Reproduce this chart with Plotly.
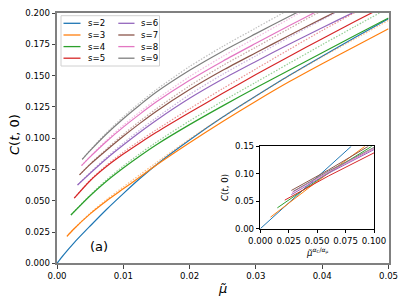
import plotly.graph_objects as go

W, H = 407, 305

# ---------------- data ----------------
series_labels = ["s=2", "s=3", "s=4", "s=5", "s=6", "s=7", "s=8", "s=9"]
series_colors = ["#1f77b4", "#ff7f0e", "#2ca02c", "#d62728",
                 "#9467bd", "#8c564b", "#e377c2", "#7f7f7f"]

mu_s2 = [0, 0.001, 0.0025, 0.005, 0.0075, 0.01, 0.0125, 0.015, 0.02, 0.025, 0.03, 0.035, 0.04, 0.045, 0.05]
C_s2 = [0, 0.0068, 0.016, 0.0298, 0.0432, 0.0557, 0.0677, 0.0788, 0.0985, 0.1168, 0.1336, 0.150, 0.1655, 0.1806, 0.1954]

mu_s3 = [0.0015, 0.0025, 0.005, 0.0075, 0.01, 0.0125, 0.015, 0.02, 0.025, 0.03, 0.035, 0.04, 0.045, 0.05]
C_s3 = [0.0215, 0.0272, 0.0395, 0.050, 0.0595, 0.069, 0.0785, 0.0963, 0.1133, 0.1295, 0.1450, 0.1595, 0.1735, 0.1874]
C_s3_dot = [0.0215, 0.0272, 0.04, 0.051, 0.061, 0.0708, 0.0805, 0.0993, 0.1168, 0.1335, 0.1498, 0.165, 0.1795, 0.194]

mu_s4 = [0.0021, 0.005, 0.0075, 0.01, 0.0125, 0.015, 0.02, 0.025, 0.03, 0.035, 0.04, 0.045, 0.05]
C_s4 = [0.0386, 0.054, 0.0658, 0.0762, 0.0858, 0.0948, 0.1108, 0.1258, 0.1402, 0.1543, 0.1682, 0.1822, 0.196]
C_s4_dot = [0.0386, 0.0545, 0.0668, 0.0777, 0.0876, 0.0968, 0.1138, 0.1296, 0.1447, 0.1598, 0.1747, 0.1894, 0.204]

mu_s5 = [0.0026, 0.005, 0.0075, 0.01, 0.0125, 0.015, 0.02, 0.025, 0.03, 0.035, 0.04, 0.045, 0.05]
C_s5 = [0.052, 0.066, 0.0775, 0.0873, 0.0962, 0.1047, 0.1205, 0.1358, 0.1508, 0.1653, 0.1795, 0.1934, 0.207]
C_s5_dot = [0.052, 0.0665, 0.0785, 0.0888, 0.098, 0.1067, 0.1235, 0.1396, 0.1553, 0.1708, 0.186, 0.2006, 0.215]

mu_s6 = [0.0031, 0.005, 0.0075, 0.01, 0.0125, 0.015, 0.02, 0.025, 0.03, 0.035, 0.04, 0.045, 0.05]
C_s6 = [0.0626, 0.072, 0.0838, 0.0945, 0.1047, 0.1143, 0.1318, 0.1472, 0.1613, 0.175, 0.1882, 0.2012, 0.214]
C_s6_dot = [0.0626, 0.0725, 0.0848, 0.096, 0.1065, 0.1163, 0.1348, 0.151, 0.1658, 0.1805, 0.1947, 0.2084, 0.222]

mu_s7 = [0.0034, 0.005, 0.0075, 0.01, 0.0125, 0.015, 0.02, 0.025, 0.03, 0.035, 0.04, 0.045, 0.05]
C_s7 = [0.0706, 0.079, 0.0905, 0.1015, 0.1118, 0.1215, 0.1388, 0.1542, 0.1682, 0.182, 0.1955, 0.2088, 0.222]
C_s7_dot = [0.0706, 0.0795, 0.0915, 0.103, 0.1136, 0.1235, 0.1418, 0.158, 0.1727, 0.1875, 0.202, 0.216, 0.230]

mu_s8 = [0.0037, 0.005, 0.0075, 0.01, 0.0125, 0.015, 0.02, 0.025, 0.03, 0.035, 0.04, 0.045, 0.05]
C_s8 = [0.078, 0.085, 0.0975, 0.1088, 0.1192, 0.129, 0.1462, 0.1615, 0.1758, 0.1898, 0.2035, 0.2168, 0.230]
C_s8_dot = [0.078, 0.0855, 0.0985, 0.1103, 0.121, 0.131, 0.1492, 0.1653, 0.1803, 0.1953, 0.21, 0.224, 0.238]

mu_s9 = [0.0038, 0.005, 0.0075, 0.01, 0.0125, 0.015, 0.02, 0.025, 0.03, 0.035, 0.04, 0.045, 0.05]
C_s9 = [0.083, 0.090, 0.1035, 0.1155, 0.1265, 0.1368, 0.1542, 0.1695, 0.1835, 0.1972, 0.2105, 0.2235, 0.236]
C_s9_dot = [0.083, 0.0905, 0.1045, 0.117, 0.1283, 0.1388, 0.1572, 0.1733, 0.188, 0.2027, 0.217, 0.2307, 0.244]

# inset: rescaled abscissa
ins_x_s2 = [0, 0.04, 0.08];        ins_y_s2 = [0, 0.075, 0.15]
ins_x_s3 = [0.009, 0.05, 0.092];   ins_y_s3 = [0.021, 0.086, 0.15]
ins_x_s4 = [0.015, 0.055, 0.098];  ins_y_s4 = [0.038, 0.095, 0.15]
ins_x_s5 = [0.0215, 0.06, 0.1];    ins_y_s5 = [0.052, 0.096, 0.138]
ins_x_s6 = [0.0273, 0.06, 0.1];    ins_y_s6 = [0.062, 0.101, 0.144]
ins_x_s7 = [0.0273, 0.06, 0.095];  ins_y_s7 = [0.0696, 0.107, 0.15]
ins_x_s8 = [0.028, 0.06, 0.1];     ins_y_s8 = [0.066, 0.103, 0.146]
ins_x_s9 = [0.029, 0.06, 0.1];     ins_y_s9 = [0.068, 0.105, 0.148]

main_x_ticks = [0, 0.01, 0.02, 0.03, 0.04, 0.05]
main_y_ticks = [0, 0.025, 0.05, 0.075, 0.1, 0.125, 0.15, 0.175, 0.2]
ins_x_ticks = [0, 0.025, 0.05, 0.075, 0.1]
ins_y_ticks = [0, 0.05, 0.1, 0.15]

# ---------------- figure ----------------
solid = [(mu_s2, C_s2), (mu_s3, C_s3), (mu_s4, C_s4), (mu_s5, C_s5),
         (mu_s6, C_s6), (mu_s7, C_s7), (mu_s8, C_s8), (mu_s9, C_s9)]
dotted = [None, (mu_s3, C_s3_dot), (mu_s4, C_s4_dot), (mu_s5, C_s5_dot),
          (mu_s6, C_s6_dot), (mu_s7, C_s7_dot), (mu_s8, C_s8_dot), (mu_s9, C_s9_dot)]
inset = [(ins_x_s2, ins_y_s2), (ins_x_s3, ins_y_s3), (ins_x_s4, ins_y_s4), (ins_x_s5, ins_y_s5),
         (ins_x_s6, ins_y_s6), (ins_x_s7, ins_y_s7), (ins_x_s8, ins_y_s8), (ins_x_s9, ins_y_s9)]

fig = go.Figure()
LW = 1.2
for i, lab in enumerate(series_labels):
    xs, ys = solid[i]
    fig.add_trace(go.Scatter(x=xs, y=ys, mode="lines", name=lab,
                             line=dict(color=series_colors[i], width=LW, shape="spline", smoothing=0.8),
                             xaxis="x", yaxis="y", showlegend=False))
for i, lab in enumerate(series_labels):
    if dotted[i] is None:
        continue
    xs, ys = dotted[i]
    fig.add_trace(go.Scatter(x=xs, y=ys, mode="lines", name=lab + " (dotted)",
                             line=dict(color=series_colors[i], width=LW, dash="1.5px,1.5px",
                                       shape="spline", smoothing=0.8),
                             opacity=0.5, xaxis="x", yaxis="y", showlegend=False))
for i, lab in enumerate(series_labels):
    xs, ys = inset[i]
    fig.add_trace(go.Scatter(x=xs, y=ys, mode="lines", name=lab + " inset",
                             line=dict(color=series_colors[i], width=1.0),
                             xaxis="x2", yaxis="y2", showlegend=False))

def px(xp):
    return xp / W

def py(yp):
    return 1 - yp / H

FONT = "DejaVu Sans"
TICKF = dict(family=FONT, size=8.6, color="black")

main_dom_x = [px(57), px(388.5)]
main_dom_y = [py(263.3), py(13)]
ins_dom_x = [px(260.3), px(374)]
ins_dom_y = [py(228.7), py(146.3)]

common_ax = dict(showgrid=False, zeroline=False, showline=True, mirror=True,
                 ticks="outside", ticklen=3.5, tickwidth=0.9, tickfont=TICKF, automargin=False)

fig.update_layout(
    template="none",
    width=W, height=H,
    margin=dict(l=0, r=0, t=0, b=0, pad=0),
    paper_bgcolor="white", plot_bgcolor="white",
    showlegend=False,
    font=dict(family=FONT, size=8.6, color="black"),
    xaxis=dict(domain=main_dom_x, range=[0, 0.05], tickvals=main_x_ticks,
               ticktext=[f"{v:.2f}" for v in main_x_ticks],
               linecolor="#808080", linewidth=1.6, tickcolor="#444", anchor="y", **common_ax),
    yaxis=dict(domain=main_dom_y, range=[0, 0.2], tickvals=main_y_ticks,
               ticktext=[f"{v:.3f}" for v in main_y_ticks],
               linecolor="#808080", linewidth=1.6, tickcolor="#444", anchor="x", **common_ax),
    xaxis2=dict(domain=ins_dom_x, range=[0, 0.1], tickvals=ins_x_ticks,
                ticktext=[f"{v:.3f}" for v in ins_x_ticks],
                linecolor="black", linewidth=1, tickcolor="black", anchor="y2", **common_ax),
    yaxis2=dict(domain=ins_dom_y, range=[0, 0.15], tickvals=ins_y_ticks,
                ticktext=[f"{v:.2f}" for v in ins_y_ticks],
                linecolor="black", linewidth=1, tickcolor="black", anchor="x2", **common_ax),
)

ann = []
# axis titles
ann.append(dict(text="<i>C</i>(<i>t</i>, 0)", x=px(14), y=py(135), xref="paper", yref="paper",
                textangle=-90, showarrow=False, font=dict(family=FONT, size=13, color="black"),
                xanchor="center", yanchor="middle"))
ann.append(dict(text="<i>\u03bc\u0303</i>", x=px(222.7), y=py(288), xref="paper", yref="paper",
                showarrow=False, font=dict(family=FONT, size=13, color="black"),
                xanchor="center", yanchor="middle"))
ann.append(dict(text="(a)", x=px(99), y=py(246), xref="paper", yref="paper",
                showarrow=False, font=dict(family=FONT, size=13, color="black"),
                xanchor="center", yanchor="middle"))
ann.append(dict(text="<i>C</i>(<i>t</i>, 0)", x=px(225), y=py(188), xref="paper", yref="paper",
                textangle=-90, showarrow=False, font=dict(family=FONT, size=8.6, color="black"),
                xanchor="center", yanchor="middle"))
ann.append(dict(text="<i>\u03bc\u0303</i><sup><i>\u03b1</i><sub>C</sub>/<i>\u03b1</i><sub>\u03bc</sub></sup>",
                x=px(317), y=py(251.5), xref="paper", yref="paper",
                showarrow=False, font=dict(family=FONT, size=8.6, color="black"),
                xanchor="center", yanchor="middle"))

# legend (2 columns x 4 rows)
shapes = [dict(type="rect", xref="paper", yref="paper",
               x0=px(61), x1=px(159.5), y0=py(66), y1=py(15.7),
               line=dict(color="#d0d0d0", width=1), fillcolor="rgba(255,255,255,0.8)", layer="above")]
row_y = [23.3, 35, 46.6, 58.2]
col_line = [(63.5, 80.5, 86), (118.3, 134.5, 138.5)]
for i, lab in enumerate(series_labels):
    c, r = divmod(i, 4)
    x0, x1, xt = col_line[c]
    yy = row_y[r]
    shapes.append(dict(type="line", xref="paper", yref="paper", x0=px(x0), x1=px(x1),
                       y0=py(yy), y1=py(yy), line=dict(color=series_colors[i], width=1.3), layer="above"))
    ann.append(dict(text=lab, x=px(xt), y=py(yy), xref="paper", yref="paper", showarrow=False,
                    font=dict(family=FONT, size=8.6, color="black"), xanchor="left", yanchor="middle"))

fig.update_layout(annotations=ann, shapes=shapes)
fig.write_html("out.html", config={"displayModeBar": False},
               post_script="document.body.style.margin='0px';")
